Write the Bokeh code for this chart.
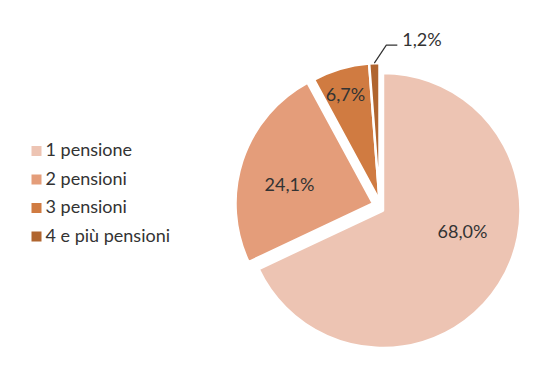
import math
from bokeh.plotting import figure
from bokeh.models import Range1d, ColumnDataSource
from bokeh.core.properties import value
from bokeh.embed import file_html
from bokeh.resources import INLINE

# ---- data ----
categories = ["1 pensione", "2 pensioni", "3 pensioni", "4 e più pensioni"]
shares = [68.0, 24.1, 6.7, 1.2]
labels = ["68,0%", "24,1%", "6,7%", "1,2%"]
colors = ["#EDC4B3", "#E49D7A", "#D07B41", "#B0652F"]

# ---- layout / style ----
W, H = 560, 377
CX, CY, R = 379.0, 200.0, 137.5          # pie centre (pixels, y downwards) and radius
explode = [(3.5, 10.0), (-6.5, 3.0), (0.0, 0.0), (0.0, 0.0)]   # per-slice offsets (px)
label_polar = [(105.5, 0.60), (281.6, 0.62), (342.0, 0.80), None]  # (clockwise deg from top, radius frac)
FONT = "Lato"
FSIZE = "18px"
TXT = "#333333"
TDY = -2.0   # vertical nudge for text baseline (px, downwards positive)

def Y(ypx):
    return H - ypx

p = figure(width=W, height=H, output_backend="svg", toolbar_location=None,
           x_range=Range1d(0, W), y_range=Range1d(0, H),
           x_axis_location=None, y_axis_location=None, min_border=0)
p.grid.visible = False
p.outline_line_color = None
p.background_fill_color = "white"
p.border_fill_color = "white"

total = sum(shares)
xs, ys, starts, ends = [], [], [], []
cum = 0.0
mids = []
for i, s in enumerate(shares):
    a1 = cum / total * 360.0
    a2 = (cum + s) / total * 360.0
    cum += s
    cx = CX + explode[i][0]
    cy = CY + explode[i][1]
    xs.append(cx)
    ys.append(Y(cy))
    starts.append(90.0 - a2)
    ends.append(90.0 - a1)
    mids.append((a1 + a2) / 2.0)

src = ColumnDataSource(dict(x=xs, y=ys, start=starts, end=ends, color=colors))
p.wedge(x="x", y="y", radius=R, start_angle="start", end_angle="end",
        start_angle_units="deg", end_angle_units="deg",
        fill_color="color", line_color="white", line_width=2.5, source=src)

# inside labels
lx, ly, lt = [], [], []
for i, lp in enumerate(label_polar):
    if lp is None:
        continue
    ang, rf = lp
    cx = CX + explode[i][0]
    cy = CY + explode[i][1]
    t = math.radians(ang)
    lx.append(cx + rf * R * math.sin(t))
    ly.append(Y(cy - rf * R * math.cos(t) + TDY))
    lt.append(labels[i])
p.text(x=lx, y=ly, text=lt, text_font=value(FONT), text_font_size=FSIZE,
       text_color=TXT, text_align="center", text_baseline="middle")

# outside label with leader line for the smallest slice
i = 3
t = math.radians(mids[i])
sx = CX + explode[i][0] + R * math.sin(t)
sy = CY + explode[i][1] - R * math.cos(t)
p.line(x=[sx, sx + 12, sx + 23], y=[Y(sy), Y(sy - 18), Y(sy - 18)],
       line_color="#333333", line_width=1.2)
p.text(x=[sx + 28], y=[Y(sy - 22.5 + TDY)], text=[labels[i]], text_font=value(FONT),
       text_font_size=FSIZE, text_color=TXT, text_align="left", text_baseline="middle")

# legend
LX, LY0, LDY, SQ = 36.0, 150.5, 28.5, 10
gy_px = [LY0 + k * LDY for k in range(len(categories))]
p.rect(x=[LX] * len(categories), y=[Y(v) for v in gy_px], width=SQ, height=SQ,
       fill_color=colors, line_color=None)
p.text(x=[LX + 9] * len(categories), y=[Y(v + TDY) for v in gy_px], text=categories,
       text_font=value(FONT), text_font_size=FSIZE, text_color=TXT,
       text_align="left", text_baseline="middle")

open("out.html", "w").write(file_html(p, INLINE))
